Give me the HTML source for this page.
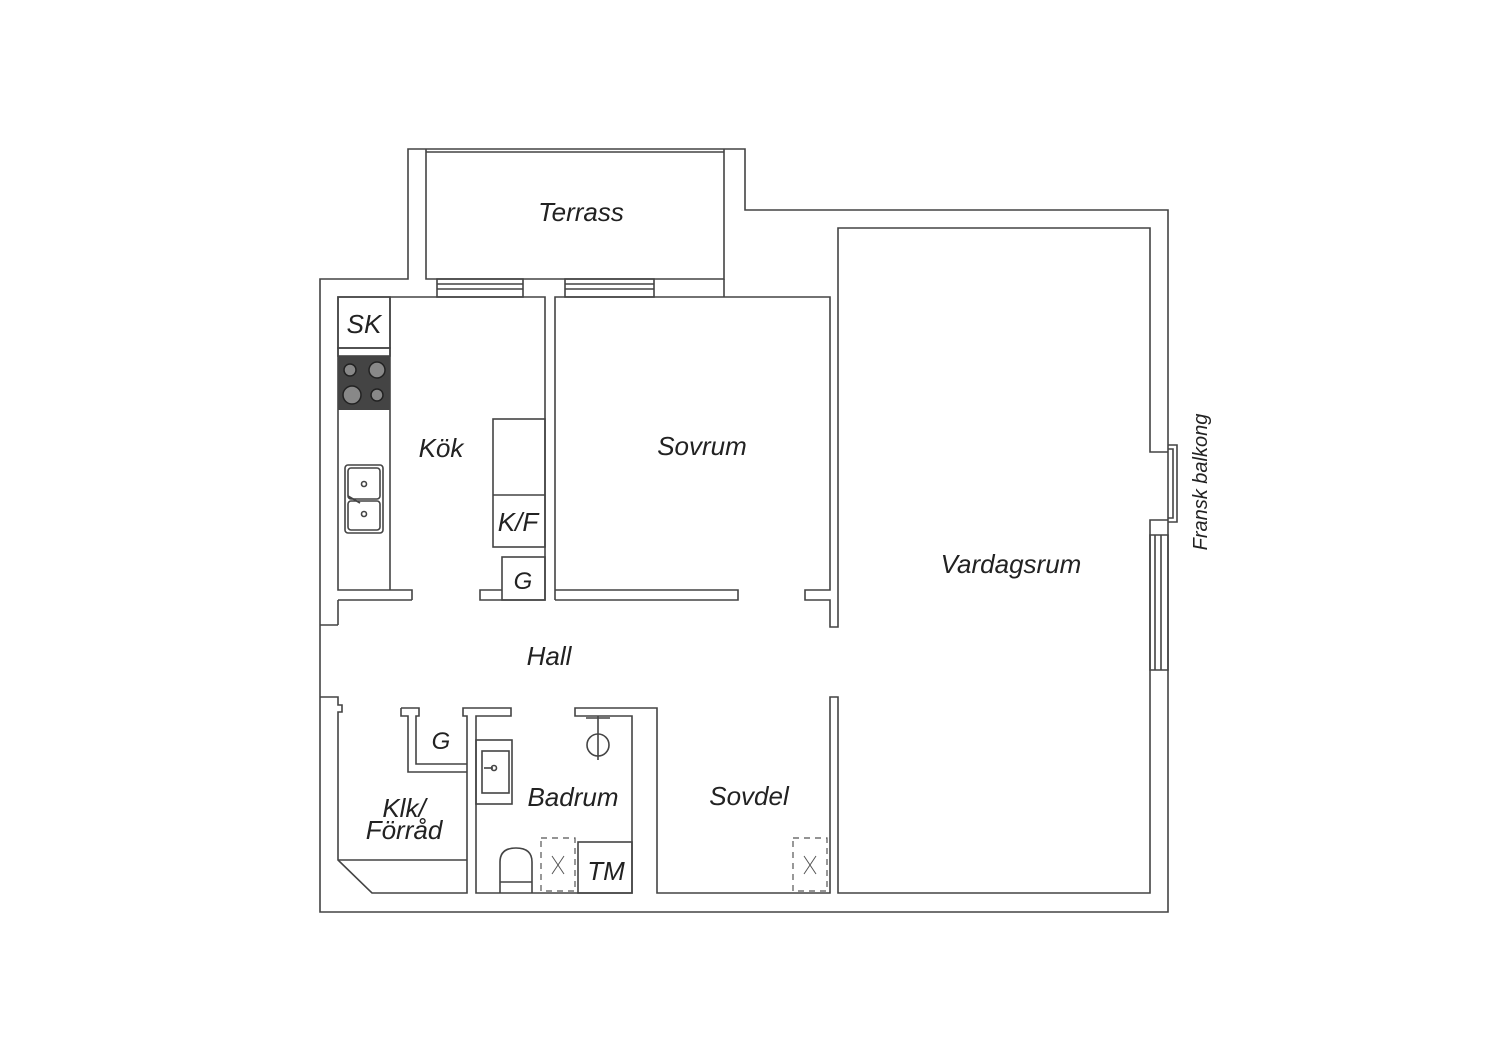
<!DOCTYPE html>
<html><head><meta charset="utf-8"><style>
html,body{margin:0;padding:0;background:#fff;}
svg{display:block}
text{font-family:"Liberation Sans",sans-serif;font-style:italic;fill:#222;text-anchor:middle}
</style></head><body>
<svg width="1500" height="1060" viewBox="0 0 1500 1060" xmlns="http://www.w3.org/2000/svg">
<g fill="none" stroke="#444" stroke-width="1.6">
<!-- outer -->
<path d="M408,149 H745 V210 H1168 V912 H320 V279 H408 Z" fill="#fff"/>
<!-- terrace -->
<path d="M426,152 H724 M426,149 V279 H724 V149"/>
<!-- windows to terrace -->
<rect x="437" y="279" width="86" height="18"/><path d="M437,284 H523 M437,289 H523"/>
<rect x="565" y="279" width="89" height="18"/><path d="M565,284 H654 M565,289 H654"/>
<path d="M724,279 V297"/>
<!-- kitchen -->
<path d="M412,600 V590 H338 V297 H545 V600 H480 V590 H502"/>
<path d="M338,600 H412"/>
<rect x="502" y="557" width="43" height="43"/>
<path d="M390,297 V590"/>
<rect x="338" y="297" width="52" height="51"/>
<rect x="338" y="348" width="52" height="8"/>
<rect x="493" y="419" width="52" height="128"/><path d="M493,495 H545"/>
<!-- bedroom -->
<path d="M555,600 V297 H830 V590 H805 V600 H830 V627 H838 V228 H1150 V452 H1168"/>
<path d="M555,590 H738 V600 H555"/>
<!-- living room right side -->
<path d="M1168,520 H1150 V893 H838 V697 H830 V893 H657 V708 H575 V716 H632 V893 H476 V716 H511 V708 H463 V716 H467 V893 H372 L338,860 V712 H342 V705 H338 V697 H320"/>
<path d="M338,625 V600 M320,625 H338"/>
<path d="M338,860 H467"/>
<!-- G closet -->
<path d="M401,708 H419 V716 H416 V764 H467 M401,708 V716 H408 V772 H467"/>
<!-- fransk balkong -->
<path d="M1168,445 H1177 V522 H1168 M1168,449 H1173 V518 H1168"/>
<path d="M1150,535 H1168 V670 H1150 Z M1155,535 V670 M1161,535 V670"/>
<!-- sink -->
<rect x="345" y="465" width="38" height="68" rx="3"/>
<rect x="348" y="468" width="32" height="31" rx="3"/>
<rect x="348" y="501" width="32" height="29" rx="3"/>
<circle cx="364" cy="484" r="2.5"/><circle cx="364" cy="514" r="2.5"/>
<path d="M348,496 L360,503"/>
<!-- bathroom sink -->
<rect x="476" y="740" width="36" height="64"/>
<rect x="482" y="751" width="27" height="42"/>
<path d="M484,768 H493"/><circle cx="494" cy="768" r="2.5"/>
<!-- shower -->
<path d="M586,718 H610 M598,716 V760"/><circle cx="598" cy="745" r="11"/>
<!-- toilet -->
<path d="M500,893 V862 Q500,848 516,848 Q532,848 532,862 V893 M500,882 H532"/>
<!-- TM -->
<rect x="578" y="842" width="54" height="51"/>
</g>
<g fill="none" stroke="#555" stroke-width="1.2" stroke-dasharray="6,5">
<rect x="541" y="838" width="34" height="53"/>
<rect x="793" y="838" width="34" height="53"/>
</g>
<g stroke="#555" stroke-width="1"><path d="M552,856 L564,874 M564,856 L552,874 M804,856 L816,874 M816,856 L804,874"/></g>
<!-- stove -->
<rect x="338" y="356" width="52" height="54" fill="#444"/>
<g stroke="#222" stroke-width="1.5" fill="#888">
<circle cx="350" cy="370" r="6"/><circle cx="377" cy="370" r="8"/>
<circle cx="352" cy="395" r="9"/><circle cx="377" cy="395" r="6"/>
</g>
<g font-size="26">
<text x="581" y="221">Terrass</text>
<text x="441" y="457">Kök</text>
<text x="702" y="455">Sovrum</text>
<text x="1011" y="573">Vardagsrum</text>
<text x="549" y="665">Hall</text>
<text x="573" y="806">Badrum</text>
<text x="749" y="805">Sovdel</text>
<text x="404" y="817">Klk/</text>
<text x="404" y="839">Förråd</text>
<text x="364" y="333">SK</text>
<text x="518" y="531">K/F</text>
<text x="523" y="589" font-size="24">G</text>
<text x="441" y="749" font-size="24">G</text>
<text x="606" y="880">TM</text>
</g>
<text x="0" y="0" font-size="20" transform="translate(1207,482) rotate(-90)">Fransk balkong</text>
</svg>
</body></html>
